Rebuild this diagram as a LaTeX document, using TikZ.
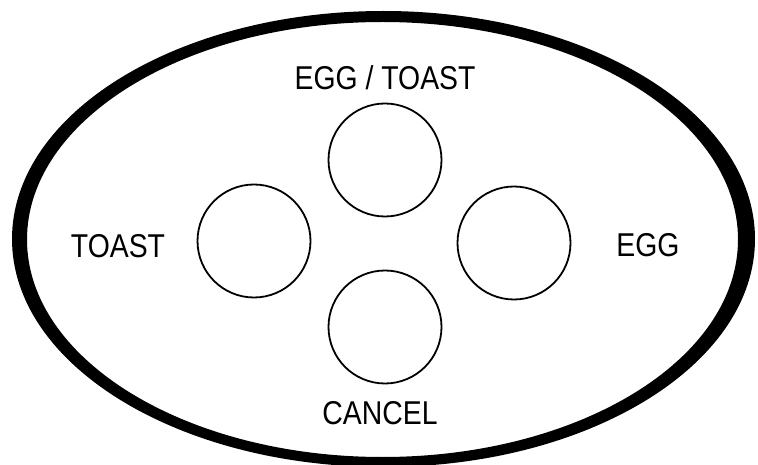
\documentclass[tikz,border=0pt]{standalone}
\usepackage{fontspec}
\setmainfont{Liberation Sans}
\begin{document}
\begin{tikzpicture}[x=1pt,y=1pt,
  btn/.style={draw=black,line width=1.8pt,circle,minimum size=113pt,inner sep=0pt},
  lbl/.style={font=\fontsize{33}{33}\selectfont,xscale=0.86,inner sep=0pt,anchor=center}]
\useasboundingbox (0,0) rectangle (758,464);
\fill[white] (0,0) rectangle (758,464);
\fill[black,even odd rule] (383.5,225) ellipse [x radius=371.5, y radius=228]
  (382.5,224.5) ellipse [x radius=355.5, y radius=217.5];
\node[btn] (top) at (385,304) {};
\node[btn] (left) at (254,223) {};
\node[btn] (right) at (514,221) {};
\node[btn] (bottom) at (385,137) {};
\node[lbl] (tl) at (385,386) {EGG / TOAST};
\node[lbl] (ll) at (118,218) {TOAST};
\node[lbl] (rl) at (648,219) {EGG};
\node[lbl] (bl) at (380,51) {CANCEL};
\end{tikzpicture}
\end{document}
